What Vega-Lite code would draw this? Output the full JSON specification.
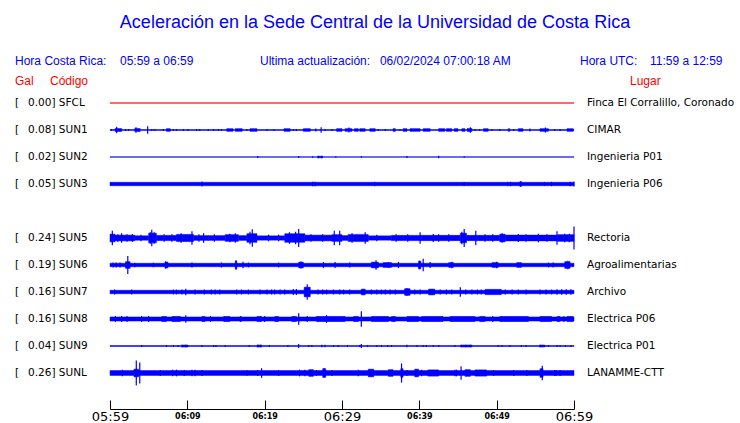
{
"$schema": "https://vega.github.io/schema/vega-lite/v6.json",
"width": 464, "height": 374,
"autosize": {"type": "none"},
"padding": {"left": 110, "right": 166, "top": 35, "bottom": 14},
"background": "white",
"title": {"text": "Aceleración en la Sede Central de la Universidad de Costa Rica", "font": "Liberation Sans", "fontSize": 18, "fontWeight": "normal", "color": "#0000ff", "anchor": "middle", "dx": 33, "dy": 18, "baseline": "alphabetic", "offset": 7},
"datasets": {
"lanes": [
{"s":"SFCL","lane":1,"gal":"0.00","place":"Finca El Corralillo, Coronado"},
{"s":"SUN1","lane":2,"gal":"0.08","place":"CIMAR"},
{"s":"SUN2","lane":3,"gal":"0.02","place":"Ingenieria P01"},
{"s":"SUN3","lane":4,"gal":"0.05","place":"Ingenieria P06"},
{"s":"SUN5","lane":6,"gal":"0.24","place":"Rectoria"},
{"s":"SUN6","lane":7,"gal":"0.19","place":"Agroalimentarias"},
{"s":"SUN7","lane":8,"gal":"0.16","place":"Archivo"},
{"s":"SUN8","lane":9,"gal":"0.16","place":"Electrica P06"},
{"s":"SUN9","lane":10,"gal":"0.04","place":"Electrica P01"},
{"s":"SUNL","lane":11,"gal":"0.26","place":"LANAMME-CTT"}
],
"bands": [
{"s":"SFCL","t0":0,"t1":60,"a":0.004},
{"s":"SUN1","t0":0,"t1":60,"a":0.01},
{"s":"SUN1","t0":0.65,"t1":1.5,"a":0.032},
{"s":"SUN1","t0":3.2,"t1":3.9,"a":0.032},
{"s":"SUN1","t0":7.3,"t1":7.8,"a":0.028},
{"s":"SUN1","t0":15.1,"t1":15.9,"a":0.028},
{"s":"SUN1","t0":16.2,"t1":17.1,"a":0.028},
{"s":"SUN1","t0":18.1,"t1":19.0,"a":0.028},
{"s":"SUN1","t0":22.5,"t1":23.3,"a":0.028},
{"s":"SUN1","t0":25.0,"t1":25.9,"a":0.028},
{"s":"SUN1","t0":29.3,"t1":30.0,"a":0.028},
{"s":"SUN1","t0":30.4,"t1":31.3,"a":0.028},
{"s":"SUN1","t0":31.6,"t1":32.1,"a":0.028},
{"s":"SUN1","t0":32.3,"t1":33.0,"a":0.028},
{"s":"SUN1","t0":33.6,"t1":34.3,"a":0.028},
{"s":"SUN1","t0":36.6,"t1":36.9,"a":0.028},
{"s":"SUN1","t0":37.9,"t1":38.4,"a":0.028},
{"s":"SUN1","t0":38.8,"t1":40.1,"a":0.028},
{"s":"SUN1","t0":40.5,"t1":41.4,"a":0.028},
{"s":"SUN1","t0":42.5,"t1":43.3,"a":0.028},
{"s":"SUN1","t0":43.5,"t1":44.2,"a":0.028},
{"s":"SUN1","t0":44.5,"t1":45.0,"a":0.028},
{"s":"SUN1","t0":45.5,"t1":45.9,"a":0.028},
{"s":"SUN1","t0":46.2,"t1":46.8,"a":0.032},
{"s":"SUN1","t0":48.3,"t1":48.9,"a":0.028},
{"s":"SUN1","t0":51.5,"t1":51.7,"a":0.028},
{"s":"SUN1","t0":52.8,"t1":53.4,"a":0.028},
{"s":"SUN1","t0":55.6,"t1":56.7,"a":0.028},
{"s":"SUN1","t0":59.1,"t1":59.9,"a":0.028},
{"s":"SUN2","t0":0,"t1":60,"a":0.005},
{"s":"SUN2","t0":26.9,"t1":27.5,"a":0.015},
{"s":"SUN3","t0":0,"t1":60,"a":0.036},
{"s":"SUN3","t0":53.0,"t1":53.2,"a":0.05},
{"s":"SUN5","t0":0,"t1":0.65,"a":0.08},
{"s":"SUN5","t0":0.65,"t1":3.2,"a":0.06},
{"s":"SUN5","t0":3.2,"t1":5.0,"a":0.045},
{"s":"SUN5","t0":5.0,"t1":6.0,"a":0.1},
{"s":"SUN5","t0":6.0,"t1":8.6,"a":0.055},
{"s":"SUN5","t0":8.6,"t1":10.8,"a":0.075},
{"s":"SUN5","t0":10.8,"t1":12.7,"a":0.05},
{"s":"SUN5","t0":12.7,"t1":14.9,"a":0.05},
{"s":"SUN5","t0":14.9,"t1":16.6,"a":0.07},
{"s":"SUN5","t0":16.6,"t1":17.7,"a":0.05},
{"s":"SUN5","t0":17.7,"t1":19.0,"a":0.09},
{"s":"SUN5","t0":19.0,"t1":22.6,"a":0.045},
{"s":"SUN5","t0":22.6,"t1":25.2,"a":0.09},
{"s":"SUN5","t0":25.2,"t1":28.7,"a":0.06},
{"s":"SUN5","t0":28.7,"t1":30.0,"a":0.07},
{"s":"SUN5","t0":30.0,"t1":30.8,"a":0.05},
{"s":"SUN5","t0":30.8,"t1":33.4,"a":0.075},
{"s":"SUN5","t0":33.4,"t1":36.4,"a":0.045},
{"s":"SUN5","t0":36.4,"t1":40.3,"a":0.055},
{"s":"SUN5","t0":40.3,"t1":45.3,"a":0.055},
{"s":"SUN5","t0":45.3,"t1":46.1,"a":0.1},
{"s":"SUN5","t0":46.1,"t1":50.4,"a":0.055},
{"s":"SUN5","t0":50.4,"t1":51.1,"a":0.08},
{"s":"SUN5","t0":51.1,"t1":57.9,"a":0.06},
{"s":"SUN5","t0":57.9,"t1":60,"a":0.07},
{"s":"SUN6","t0":0,"t1":60,"a":0.036},
{"s":"SUN6","t0":2.0,"t1":2.6,"a":0.07},
{"s":"SUN6","t0":7.1,"t1":7.5,"a":0.06},
{"s":"SUN6","t0":16.2,"t1":16.4,"a":0.08},
{"s":"SUN6","t0":24.4,"t1":25.0,"a":0.06},
{"s":"SUN6","t0":33.8,"t1":34.7,"a":0.06},
{"s":"SUN6","t0":35.3,"t1":36.4,"a":0.05},
{"s":"SUN6","t0":39.9,"t1":40.2,"a":0.08},
{"s":"SUN6","t0":43.8,"t1":44.4,"a":0.05},
{"s":"SUN6","t0":49.4,"t1":50.2,"a":0.05},
{"s":"SUN6","t0":52.6,"t1":53.2,"a":0.05},
{"s":"SUN6","t0":58.8,"t1":59.5,"a":0.07},
{"s":"SUN7","t0":0,"t1":60,"a":0.036},
{"s":"SUN7","t0":25.1,"t1":25.9,"a":0.1},
{"s":"SUN7","t0":32.5,"t1":33.0,"a":0.06},
{"s":"SUN7","t0":38.1,"t1":38.8,"a":0.07},
{"s":"SUN7","t0":41.2,"t1":42.0,"a":0.06},
{"s":"SUN7","t0":48.5,"t1":50.6,"a":0.055},
{"s":"SUN8","t0":0,"t1":60,"a":0.043},
{"s":"SUN8","t0":6.7,"t1":7.3,"a":0.053},
{"s":"SUN8","t0":8.0,"t1":9.1,"a":0.053},
{"s":"SUN8","t0":11.9,"t1":12.3,"a":0.053},
{"s":"SUN8","t0":14.7,"t1":15.5,"a":0.053},
{"s":"SUN8","t0":16.8,"t1":17.0,"a":0.053},
{"s":"SUN8","t0":19.0,"t1":19.6,"a":0.053},
{"s":"SUN8","t0":21.3,"t1":21.8,"a":0.053},
{"s":"SUN8","t0":23.5,"t1":24.1,"a":0.053},
{"s":"SUN8","t0":26.7,"t1":30.4,"a":0.053},
{"s":"SUN8","t0":31.5,"t1":32.1,"a":0.053},
{"s":"SUN8","t0":33.8,"t1":36.0,"a":0.053},
{"s":"SUN8","t0":36.4,"t1":36.9,"a":0.053},
{"s":"SUN8","t0":38.4,"t1":39.9,"a":0.053},
{"s":"SUN8","t0":40.3,"t1":42.9,"a":0.053},
{"s":"SUN8","t0":44.0,"t1":47.2,"a":0.053},
{"s":"SUN8","t0":47.8,"t1":48.5,"a":0.053},
{"s":"SUN8","t0":50.4,"t1":54.1,"a":0.053},
{"s":"SUN8","t0":55.6,"t1":57.1,"a":0.053},
{"s":"SUN8","t0":57.8,"t1":58.2,"a":0.053},
{"s":"SUN8","t0":59.1,"t1":59.9,"a":0.053},
{"s":"SUN9","t0":0,"t1":60,"a":0.011},
{"s":"SUN9","t0":9.3,"t1":10.1,"a":0.02},
{"s":"SUN9","t0":19.0,"t1":19.6,"a":0.02},
{"s":"SUN9","t0":45.4,"t1":46.8,"a":0.02},
{"s":"SUN9","t0":55.6,"t1":56.2,"a":0.02},
{"s":"SUNL","t0":0,"t1":60,"a":0.05},
{"s":"SUNL","t0":3.1,"t1":3.7,"a":0.08},
{"s":"SUNL","t0":25.7,"t1":26.3,"a":0.07},
{"s":"SUNL","t0":27.5,"t1":27.9,"a":0.09},
{"s":"SUNL","t0":33.4,"t1":34.1,"a":0.08},
{"s":"SUNL","t0":36.0,"t1":36.6,"a":0.07},
{"s":"SUNL","t0":37.6,"t1":37.9,"a":0.09},
{"s":"SUNL","t0":39.4,"t1":39.9,"a":0.08},
{"s":"SUNL","t0":41.1,"t1":42.5,"a":0.065},
{"s":"SUNL","t0":45.9,"t1":46.6,"a":0.07},
{"s":"SUNL","t0":47.2,"t1":48.7,"a":0.065},
{"s":"SUNL","t0":55.6,"t1":56.0,"a":0.09}
],
"spikes": [
{"s":"SUN1","t":0.2,"a":0.02},{"s":"SUN1","t":0.86,"a":0.07},{"s":"SUN1","t":2.0,"a":0.02},{"s":"SUN1","t":2.4,"a":0.02},{"s":"SUN1","t":3.36,"a":0.055},{"s":"SUN1","t":4.87,"a":0.08},{"s":"SUN1","t":5.4,"a":0.02},{"s":"SUN1","t":5.8,"a":0.02},{"s":"SUN1","t":6.9,"a":0.02},{"s":"SUN1","t":8.2,"a":0.02},{"s":"SUN1","t":8.6,"a":0.02},{"s":"SUN1","t":9.5,"a":0.02},{"s":"SUN1","t":10.1,"a":0.02},{"s":"SUN1","t":11.2,"a":0.02},{"s":"SUN1","t":11.6,"a":0.02},{"s":"SUN1","t":12.7,"a":0.02},{"s":"SUN1","t":13.4,"a":0.02},{"s":"SUN1","t":14.0,"a":0.02},{"s":"SUN1","t":14.4,"a":0.02},{"s":"SUN1","t":17.7,"a":0.02},{"s":"SUN1","t":20.3,"a":0.02},{"s":"SUN1","t":21.2,"a":0.02},{"s":"SUN1","t":23.7,"a":0.02},{"s":"SUN1","t":24.1,"a":0.02},{"s":"SUN1","t":26.6,"a":0.03},{"s":"SUN1","t":27.3,"a":0.055},{"s":"SUN1","t":27.8,"a":0.02},{"s":"SUN1","t":28.7,"a":0.02},{"s":"SUN1","t":30.9,"a":0.05},{"s":"SUN1","t":34.7,"a":0.02},{"s":"SUN1","t":35.6,"a":0.02},{"s":"SUN1","t":37.5,"a":0.02},{"s":"SUN1","t":46.6,"a":0.055},{"s":"SUN1","t":47.2,"a":0.02},{"s":"SUN1","t":47.8,"a":0.02},{"s":"SUN1","t":49.4,"a":0.02},{"s":"SUN1","t":50.4,"a":0.02},{"s":"SUN1","t":52.2,"a":0.02},{"s":"SUN1","t":54.3,"a":0.03},{"s":"SUN1","t":56.3,"a":0.05},{"s":"SUN1","t":57.5,"a":0.02},{"s":"SUN1","t":58.2,"a":0.02},
{"s":"SUN2","t":19.1,"a":0.02},{"s":"SUN2","t":24.4,"a":0.02},{"s":"SUN2","t":26.2,"a":0.015},{"s":"SUN2","t":26.9,"a":0.025},{"s":"SUN2","t":27.4,"a":0.025},{"s":"SUN2","t":29.2,"a":0.015},{"s":"SUN2","t":32.5,"a":0.015},{"s":"SUN2","t":38.4,"a":0.02},{"s":"SUN2","t":42.5,"a":0.025},{"s":"SUN2","t":45.8,"a":0.015},
{"s":"SUN3","t":11.9,"a":0.05},{"s":"SUN3","t":26.2,"a":0.045},{"s":"SUN3","t":26.5,"a":0.045},{"s":"SUN3","t":34.2,"a":0.045},{"s":"SUN3","t":45.8,"a":0.04},{"s":"SUN3","t":51.4,"a":0.045},{"s":"SUN3","t":51.8,"a":0.045},{"s":"SUN3","t":53.1,"a":0.05},{"s":"SUN3","t":56.2,"a":0.04},{"s":"SUN3","t":57.1,"a":0.045},{"s":"SUN3","t":59.5,"a":0.045},{"s":"SUN3","t":60,"a":0.05},
{"s":"SUN5","t":0.3,"a":0.15},{"s":"SUN5","t":1.0,"a":0.08},{"s":"SUN5","t":1.5,"a":0.1},{"s":"SUN5","t":2.2,"a":0.08},{"s":"SUN5","t":2.9,"a":0.08},{"s":"SUN5","t":4.0,"a":0.07},{"s":"SUN5","t":5.2,"a":0.12},{"s":"SUN5","t":5.4,"a":0.17},{"s":"SUN5","t":5.7,"a":0.12},{"s":"SUN5","t":7.0,"a":0.08},{"s":"SUN5","t":8.0,"a":0.08},{"s":"SUN5","t":9.2,"a":0.1},{"s":"SUN5","t":10.6,"a":0.14},{"s":"SUN5","t":11.5,"a":0.08},{"s":"SUN5","t":12.1,"a":0.1},{"s":"SUN5","t":13.5,"a":0.08},{"s":"SUN5","t":15.5,"a":0.09},{"s":"SUN5","t":16.2,"a":0.1},{"s":"SUN5","t":18.1,"a":0.13},{"s":"SUN5","t":18.4,"a":0.18},{"s":"SUN5","t":20.5,"a":0.07},{"s":"SUN5","t":21.8,"a":0.07},{"s":"SUN5","t":23.2,"a":0.12},{"s":"SUN5","t":24.0,"a":0.13},{"s":"SUN5","t":24.4,"a":0.19},{"s":"SUN5","t":26.0,"a":0.08},{"s":"SUN5","t":27.5,"a":0.08},{"s":"SUN5","t":29.0,"a":0.15},{"s":"SUN5","t":29.7,"a":0.15},{"s":"SUN5","t":31.3,"a":0.1},{"s":"SUN5","t":33.0,"a":0.12},{"s":"SUN5","t":34.5,"a":0.07},{"s":"SUN5","t":37.0,"a":0.08},{"s":"SUN5","t":38.5,"a":0.08},{"s":"SUN5","t":40.1,"a":0.12},{"s":"SUN5","t":41.8,"a":0.085},{"s":"SUN5","t":42.5,"a":0.08},{"s":"SUN5","t":43.8,"a":0.08},{"s":"SUN5","t":45.5,"a":0.13},{"s":"SUN5","t":45.8,"a":0.19},{"s":"SUN5","t":47.3,"a":0.15},{"s":"SUN5","t":48.5,"a":0.08},{"s":"SUN5","t":49.5,"a":0.08},{"s":"SUN5","t":50.7,"a":0.1},{"s":"SUN5","t":52.8,"a":0.085},{"s":"SUN5","t":53.8,"a":0.08},{"s":"SUN5","t":55.4,"a":0.09},{"s":"SUN5","t":56.5,"a":0.08},{"s":"SUN5","t":57.8,"a":0.14},{"s":"SUN5","t":58.8,"a":0.09},{"s":"SUN5","t":59.4,"a":0.09},{"s":"SUN5","t":60,"a":0.24},
{"s":"SUN6","t":0.4,"a":0.05},{"s":"SUN6","t":0.8,"a":0.05},{"s":"SUN6","t":1.3,"a":0.05},{"s":"SUN6","t":2.3,"a":0.19},{"s":"SUN6","t":3.2,"a":0.045},{"s":"SUN6","t":5.6,"a":0.045},{"s":"SUN6","t":7.2,"a":0.08},{"s":"SUN6","t":10.6,"a":0.05},{"s":"SUN6","t":14.4,"a":0.05},{"s":"SUN6","t":16.3,"a":0.1},{"s":"SUN6","t":17.2,"a":0.07},{"s":"SUN6","t":17.9,"a":0.05},{"s":"SUN6","t":21.8,"a":0.05},{"s":"SUN6","t":24.7,"a":0.075},{"s":"SUN6","t":27.6,"a":0.06},{"s":"SUN6","t":29.1,"a":0.065},{"s":"SUN6","t":31.0,"a":0.05},{"s":"SUN6","t":34.4,"a":0.1},{"s":"SUN6","t":36.0,"a":0.06},{"s":"SUN6","t":37.3,"a":0.065},{"s":"SUN6","t":40.0,"a":0.09},{"s":"SUN6","t":40.5,"a":0.13},{"s":"SUN6","t":41.4,"a":0.065},{"s":"SUN6","t":44.2,"a":0.07},{"s":"SUN6","t":50.0,"a":0.07},{"s":"SUN6","t":56.7,"a":0.05},{"s":"SUN6","t":57.3,"a":0.05},{"s":"SUN6","t":59.2,"a":0.09},
{"s":"SUN7","t":0.6,"a":0.05},{"s":"SUN7","t":2.8,"a":0.05},{"s":"SUN7","t":8.2,"a":0.05},{"s":"SUN7","t":8.6,"a":0.05},{"s":"SUN7","t":9.3,"a":0.05},{"s":"SUN7","t":9.8,"a":0.07},{"s":"SUN7","t":11.0,"a":0.05},{"s":"SUN7","t":12.2,"a":0.05},{"s":"SUN7","t":13.1,"a":0.05},{"s":"SUN7","t":13.6,"a":0.05},{"s":"SUN7","t":14.2,"a":0.05},{"s":"SUN7","t":16.4,"a":0.05},{"s":"SUN7","t":17.0,"a":0.05},{"s":"SUN7","t":17.9,"a":0.05},{"s":"SUN7","t":19.4,"a":0.05},{"s":"SUN7","t":20.3,"a":0.05},{"s":"SUN7","t":20.9,"a":0.05},{"s":"SUN7","t":21.3,"a":0.05},{"s":"SUN7","t":22.0,"a":0.05},{"s":"SUN7","t":22.6,"a":0.05},{"s":"SUN7","t":23.7,"a":0.06},{"s":"SUN7","t":24.1,"a":0.06},{"s":"SUN7","t":25.5,"a":0.16},{"s":"SUN7","t":26.9,"a":0.05},{"s":"SUN7","t":27.5,"a":0.05},{"s":"SUN7","t":28.0,"a":0.05},{"s":"SUN7","t":28.9,"a":0.05},{"s":"SUN7","t":29.7,"a":0.05},{"s":"SUN7","t":30.2,"a":0.05},{"s":"SUN7","t":31.0,"a":0.05},{"s":"SUN7","t":33.8,"a":0.05},{"s":"SUN7","t":34.5,"a":0.05},{"s":"SUN7","t":35.1,"a":0.05},{"s":"SUN7","t":35.6,"a":0.05},{"s":"SUN7","t":36.2,"a":0.05},{"s":"SUN7","t":36.9,"a":0.05},{"s":"SUN7","t":38.4,"a":0.08},{"s":"SUN7","t":39.4,"a":0.05},{"s":"SUN7","t":40.1,"a":0.05},{"s":"SUN7","t":42.7,"a":0.05},{"s":"SUN7","t":43.5,"a":0.05},{"s":"SUN7","t":44.2,"a":0.05},{"s":"SUN7","t":45.3,"a":0.1},{"s":"SUN7","t":46.0,"a":0.05},{"s":"SUN7","t":46.8,"a":0.05},{"s":"SUN7","t":47.5,"a":0.05},{"s":"SUN7","t":48.0,"a":0.05},{"s":"SUN7","t":51.1,"a":0.05},{"s":"SUN7","t":52.0,"a":0.05},{"s":"SUN7","t":52.8,"a":0.05},{"s":"SUN7","t":53.8,"a":0.05},{"s":"SUN7","t":55.6,"a":0.05},{"s":"SUN7","t":56.4,"a":0.05},{"s":"SUN7","t":57.1,"a":0.05},{"s":"SUN7","t":57.8,"a":0.055},{"s":"SUN7","t":58.4,"a":0.055},{"s":"SUN7","t":59.0,"a":0.055},{"s":"SUN7","t":59.6,"a":0.055},
{"s":"SUN8","t":0.7,"a":0.06},{"s":"SUN8","t":1.5,"a":0.06},{"s":"SUN8","t":2.2,"a":0.06},{"s":"SUN8","t":4.1,"a":0.06},{"s":"SUN8","t":5.0,"a":0.06},{"s":"SUN8","t":9.8,"a":0.08},{"s":"SUN8","t":13.0,"a":0.06},{"s":"SUN8","t":20.0,"a":0.06},{"s":"SUN8","t":24.4,"a":0.12},{"s":"SUN8","t":25.5,"a":0.06},{"s":"SUN8","t":28.0,"a":0.08},{"s":"SUN8","t":32.5,"a":0.16},{"s":"SUN8","t":43.0,"a":0.06},{"s":"SUN8","t":49.5,"a":0.06},{"s":"SUN8","t":58.7,"a":0.06},
{"s":"SUN9","t":4.1,"a":0.02},{"s":"SUN9","t":7.3,"a":0.02},{"s":"SUN9","t":8.2,"a":0.02},{"s":"SUN9","t":8.8,"a":0.02},{"s":"SUN9","t":9.3,"a":0.025},{"s":"SUN9","t":9.8,"a":0.025},{"s":"SUN9","t":11.9,"a":0.02},{"s":"SUN9","t":13.4,"a":0.02},{"s":"SUN9","t":13.7,"a":0.02},{"s":"SUN9","t":14.9,"a":0.02},{"s":"SUN9","t":18.0,"a":0.02},{"s":"SUN9","t":19.1,"a":0.025},{"s":"SUN9","t":19.5,"a":0.025},{"s":"SUN9","t":20.6,"a":0.02},{"s":"SUN9","t":23.0,"a":0.02},{"s":"SUN9","t":24.4,"a":0.04},{"s":"SUN9","t":25.7,"a":0.02},{"s":"SUN9","t":26.1,"a":0.02},{"s":"SUN9","t":27.4,"a":0.025},{"s":"SUN9","t":27.8,"a":0.025},{"s":"SUN9","t":28.9,"a":0.02},{"s":"SUN9","t":29.5,"a":0.02},{"s":"SUN9","t":30.7,"a":0.02},{"s":"SUN9","t":32.3,"a":0.02},{"s":"SUN9","t":32.5,"a":0.04},{"s":"SUN9","t":33.3,"a":0.02},{"s":"SUN9","t":34.5,"a":0.02},{"s":"SUN9","t":35.1,"a":0.02},{"s":"SUN9","t":35.9,"a":0.02},{"s":"SUN9","t":36.4,"a":0.02},{"s":"SUN9","t":38.4,"a":0.025},{"s":"SUN9","t":39.7,"a":0.02},{"s":"SUN9","t":40.5,"a":0.02},{"s":"SUN9","t":40.9,"a":0.02},{"s":"SUN9","t":41.8,"a":0.02},{"s":"SUN9","t":42.5,"a":0.02},{"s":"SUN9","t":44.6,"a":0.02},{"s":"SUN9","t":45.4,"a":0.025},{"s":"SUN9","t":46.0,"a":0.025},{"s":"SUN9","t":46.6,"a":0.025},{"s":"SUN9","t":50.2,"a":0.02},{"s":"SUN9","t":50.7,"a":0.02},{"s":"SUN9","t":51.7,"a":0.02},{"s":"SUN9","t":53.2,"a":0.02},{"s":"SUN9","t":53.8,"a":0.02},{"s":"SUN9","t":55.6,"a":0.025},{"s":"SUN9","t":56.2,"a":0.02},{"s":"SUN9","t":56.7,"a":0.02},{"s":"SUN9","t":57.8,"a":0.02},{"s":"SUN9","t":58.2,"a":0.02},{"s":"SUN9","t":58.9,"a":0.02},{"s":"SUN9","t":59.6,"a":0.02},
{"s":"SUNL","t":1.6,"a":0.07},{"s":"SUNL","t":3.4,"a":0.26},{"s":"SUNL","t":3.85,"a":0.22},{"s":"SUNL","t":6.5,"a":0.06},{"s":"SUNL","t":8.1,"a":0.07},{"s":"SUNL","t":8.6,"a":0.07},{"s":"SUNL","t":9.6,"a":0.06},{"s":"SUNL","t":10.6,"a":0.07},{"s":"SUNL","t":11.0,"a":0.07},{"s":"SUNL","t":11.9,"a":0.06},{"s":"SUNL","t":17.7,"a":0.055},{"s":"SUNL","t":19.1,"a":0.06},{"s":"SUNL","t":19.6,"a":0.1},{"s":"SUNL","t":21.8,"a":0.06},{"s":"SUNL","t":24.5,"a":0.07},{"s":"SUNL","t":25.2,"a":0.07},{"s":"SUNL","t":26.7,"a":0.06},{"s":"SUNL","t":27.7,"a":0.1},{"s":"SUNL","t":28.7,"a":0.06},{"s":"SUNL","t":32.1,"a":0.07},{"s":"SUNL","t":37.7,"a":0.2},{"s":"SUNL","t":38.4,"a":0.06},{"s":"SUNL","t":40.3,"a":0.07},{"s":"SUNL","t":44.6,"a":0.07},{"s":"SUNL","t":44.8,"a":0.07},{"s":"SUNL","t":45.4,"a":0.14},{"s":"SUNL","t":49.6,"a":0.06},{"s":"SUNL","t":52.2,"a":0.06},{"s":"SUNL","t":53.9,"a":0.06},{"s":"SUNL","t":55.9,"a":0.15},{"s":"SUNL","t":57.5,"a":0.06},{"s":"SUNL","t":57.7,"a":0.06},{"s":"SUNL","t":58.2,"a":0.06}
]
},
"layer": [
{
"data": {"name": "bands"},
"transform": [
{"lookup": "s", "from": {"data": {"name": "lanes"}, "key": "s", "fields": ["lane"]}},
{"calculate": "datum.lane - datum.a*1.778", "as": "lo"},
{"calculate": "datum.lane + datum.a*1.778", "as": "hi"}
],
"mark": {"type": "rect", "strokeWidth": 0.5},
"encoding": {
"x": {"field": "t0", "type": "quantitative", "scale": {"domain": [0, 60], "nice": false, "zero": false},
"axis": {"values": [0,5,10,15,20,25,30,35,40,45,50,55,60], "title": null, "grid": false,
"labelExpr": "datum.value % 10 == 0 ? '0' + floor((359+datum.value)/60) + ':' + (((359+datum.value)%60) < 10 ? '0' : '') + ((359+datum.value)%60) : ''",
"domainColor": "black", "tickColor": "black", "tickSize": -9, "labelPadding": 16, "labelBaseline": "middle",
"labelFont": "DejaVu Sans", "labelColor": "black", "labelAngle": 0, "labelFlush": false, "labelOverlap": false,
"labelFontSize": {"condition": {"test": "datum.value % 30 == 0", "value": 13}, "value": 8},
"labelFontWeight": {"condition": {"test": "datum.value % 30 == 0", "value": "normal"}, "value": "bold"}}},
"x2": {"field": "t1"},
"y": {"field": "lo", "type": "quantitative", "scale": {"domain": [-1.5185, 12.3333], "reverse": true, "nice": false, "zero": false}, "axis": null},
"y2": {"field": "hi"},
"fill": {"condition": {"test": "datum.s === 'SFCL'", "value": "#ff0000"}, "value": "#0000ff"},
"stroke": {"condition": {"test": "datum.s === 'SFCL'", "value": "#ff0000"}, "value": "#0000ff"}
}
},
{
"data": {"name": "spikes"},
"transform": [
{"lookup": "s", "from": {"data": {"name": "lanes"}, "key": "s", "fields": ["lane"]}},
{"calculate": "datum.lane - datum.a*1.778", "as": "lo"},
{"calculate": "datum.lane + datum.a*1.778", "as": "hi"}
],
"mark": {"type": "rule", "strokeWidth": 1.2, "color": "#0000ff"},
"encoding": {
"x": {"field": "t", "type": "quantitative"},
"y": {"field": "lo", "type": "quantitative"},
"y2": {"field": "hi"}
}
},
{
"data": {"name": "lanes"},
"transform": [{"calculate": "datum.gal + '] ' + datum.s", "as": "lab"}],
"mark": {"type": "text", "align": "left", "baseline": "middle", "font": "DejaVu Sans", "fontSize": 10.5, "color": "black"},
"encoding": {
"x": {"datum": -10.6, "type": "quantitative"},
"y": {"field": "lane", "type": "quantitative"},
"text": {"field": "lab"}
}
},
{
"data": {"name": "lanes"},
"mark": {"type": "text", "align": "left", "baseline": "middle", "font": "DejaVu Sans", "fontSize": 10.5, "color": "black", "text": "["},
"encoding": {
"x": {"datum": -12.28, "type": "quantitative"},
"y": {"field": "lane", "type": "quantitative"}
}
},
{
"data": {"name": "lanes"},
"mark": {"type": "text", "align": "left", "baseline": "middle", "font": "DejaVu Sans", "fontSize": 10.5, "color": "black"},
"encoding": {
"x": {"datum": 61.68, "type": "quantitative"},
"y": {"field": "lane", "type": "quantitative"},
"text": {"field": "place"}
}
},
{
"data": {"values": [{}]},
"mark": {"type": "text", "align": "left", "baseline": "middle", "font": "Liberation Sans", "fontSize": 12, "color": "#0000ff", "text": "Hora Costa Rica:"},
"encoding": {"x": {"datum": -12.28, "type": "quantitative"}, "y": {"datum": -0.567, "type": "quantitative"}}
},
{
"data": {"values": [{}]},
"mark": {"type": "text", "align": "left", "baseline": "middle", "font": "Liberation Sans", "fontSize": 12, "color": "#0000ff", "text": "05:59 a 06:59"},
"encoding": {"x": {"datum": 1.29, "type": "quantitative"}, "y": {"datum": -0.567, "type": "quantitative"}}
},
{
"data": {"values": [{}]},
"mark": {"type": "text", "align": "left", "baseline": "middle", "font": "Liberation Sans", "fontSize": 12, "color": "#0000ff", "text": "Ultima actualización:"},
"encoding": {"x": {"datum": 19.4, "type": "quantitative"}, "y": {"datum": -0.567, "type": "quantitative"}}
},
{
"data": {"values": [{}]},
"mark": {"type": "text", "align": "left", "baseline": "middle", "font": "Liberation Sans", "fontSize": 12, "color": "#0000ff", "text": "06/02/2024 07:00:18 AM"},
"encoding": {"x": {"datum": 34.9, "type": "quantitative"}, "y": {"datum": -0.567, "type": "quantitative"}}
},
{
"data": {"values": [{}]},
"mark": {"type": "text", "align": "left", "baseline": "middle", "font": "Liberation Sans", "fontSize": 12, "color": "#0000ff", "text": "Hora UTC:"},
"encoding": {"x": {"datum": 60.78, "type": "quantitative"}, "y": {"datum": -0.567, "type": "quantitative"}}
},
{
"data": {"values": [{}]},
"mark": {"type": "text", "align": "left", "baseline": "middle", "font": "Liberation Sans", "fontSize": 12, "color": "#0000ff", "text": "11:59 a 12:59"},
"encoding": {"x": {"datum": 69.83, "type": "quantitative"}, "y": {"datum": -0.567, "type": "quantitative"}}
},
{
"data": {"values": [{}]},
"mark": {"type": "text", "align": "left", "baseline": "middle", "font": "Liberation Sans", "fontSize": 12, "color": "#ff0000", "text": "Gal"},
"encoding": {"x": {"datum": -12.28, "type": "quantitative"}, "y": {"datum": 0.174, "type": "quantitative"}}
},
{
"data": {"values": [{}]},
"mark": {"type": "text", "align": "left", "baseline": "middle", "font": "Liberation Sans", "fontSize": 12, "color": "#ff0000", "text": "Código"},
"encoding": {"x": {"datum": -7.76, "type": "quantitative"}, "y": {"datum": 0.174, "type": "quantitative"}}
},
{
"data": {"values": [{}]},
"mark": {"type": "text", "align": "left", "baseline": "middle", "font": "Liberation Sans", "fontSize": 12, "color": "#ff0000", "text": "Lugar"},
"encoding": {"x": {"datum": 67.24, "type": "quantitative"}, "y": {"datum": 0.174, "type": "quantitative"}}
}
],
"config": {"view": {"stroke": null}}
}
